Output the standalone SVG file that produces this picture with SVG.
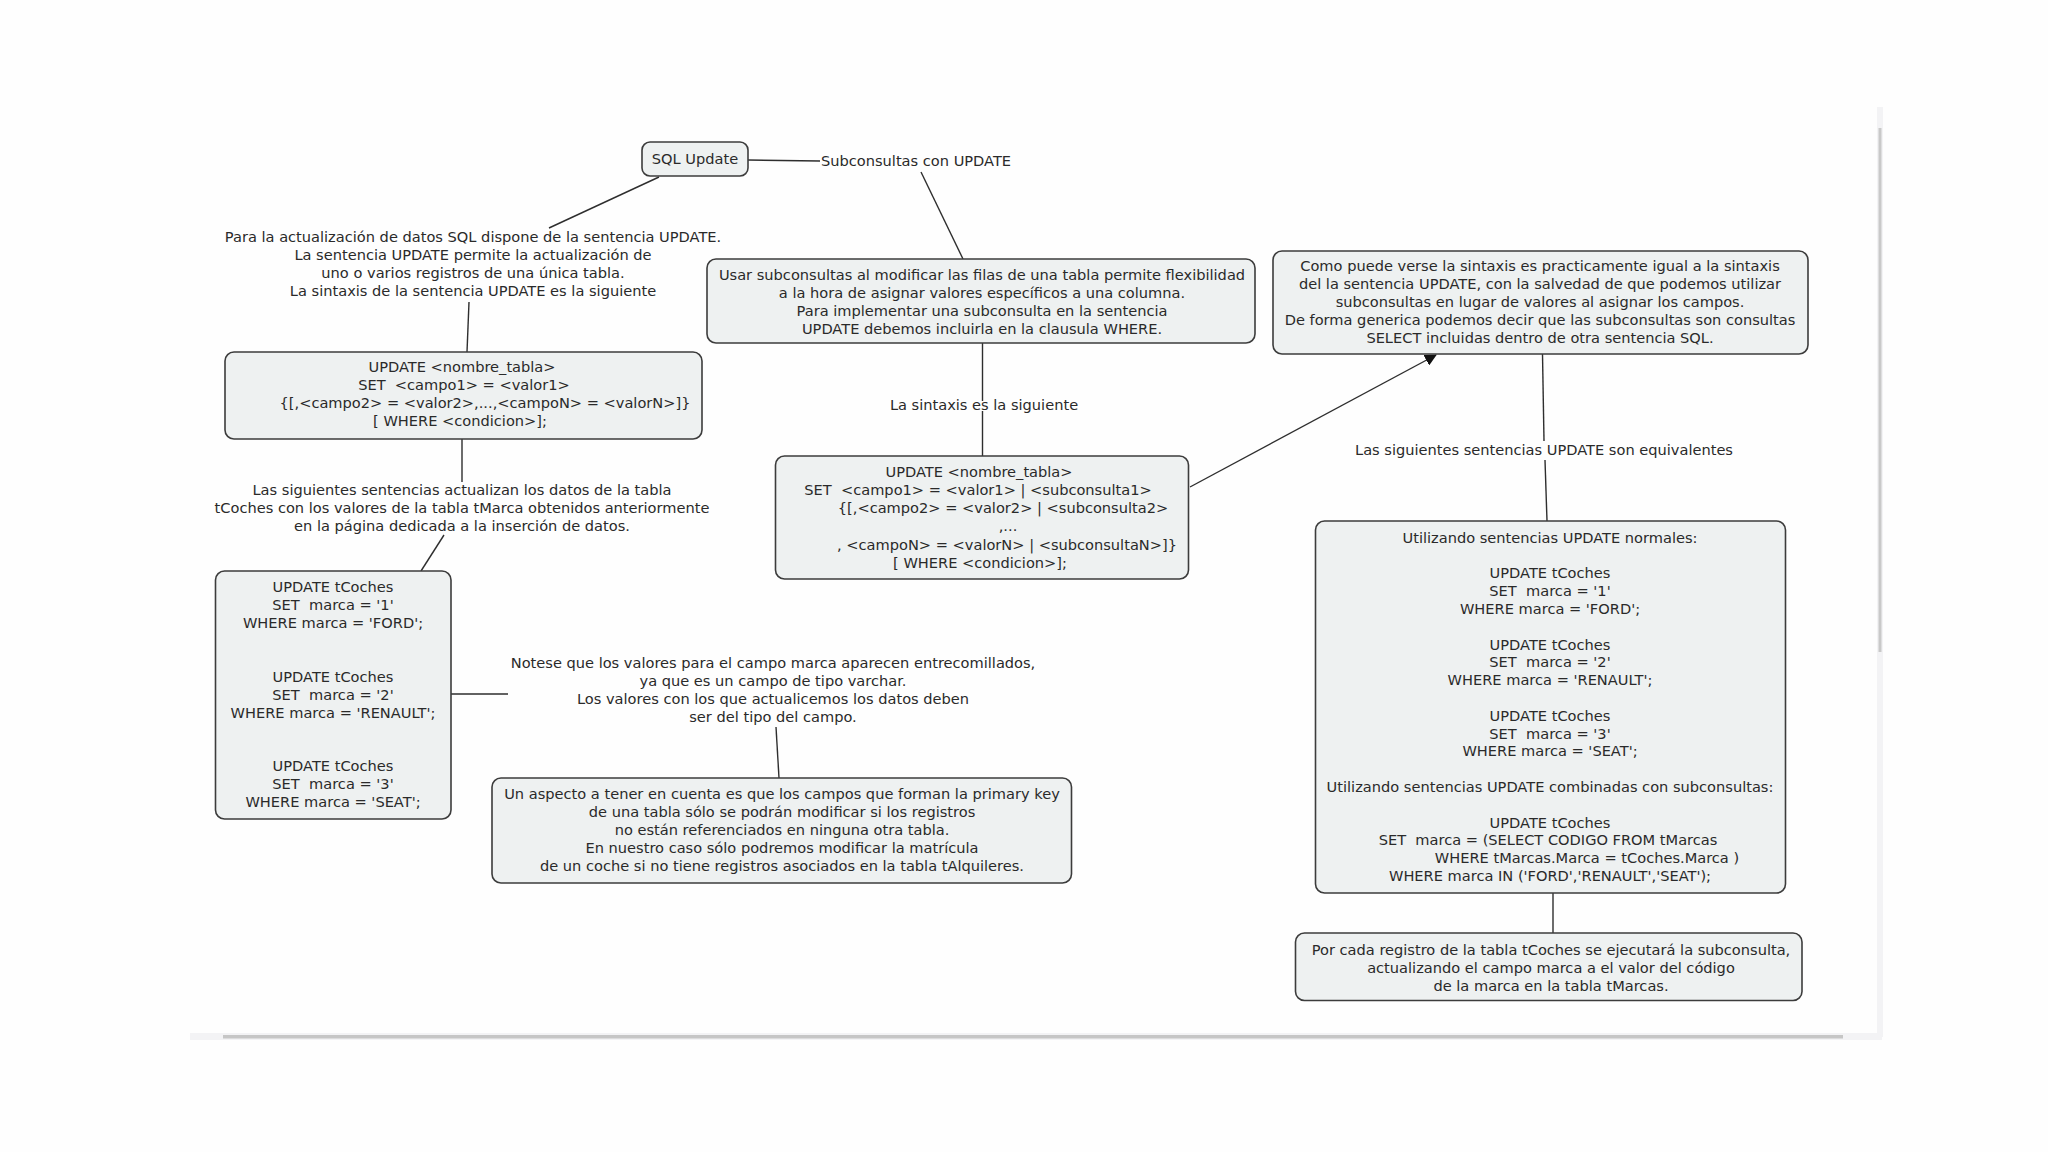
<svg xmlns="http://www.w3.org/2000/svg" width="2048" height="1152" viewBox="0 0 2048 1152">
<defs>
<style>
text{font-family:"DejaVu Sans","Verdana","Liberation Sans",sans-serif;font-size:14.6px;fill:#2a2a2a;white-space:pre}
.c{text-anchor:middle}
.box{fill:#eef1f1;stroke:#3c3c3c;stroke-width:1.6}
.ln{stroke:#2e2e2e;stroke-width:1.4;fill:none}
</style>
<marker id="arr" viewBox="0 0 12 12" refX="11" refY="6" markerWidth="12" markerHeight="12" markerUnits="userSpaceOnUse" orient="auto">
<path d="M0,0 L12,6 L0,12 z" fill="#111"/>
</marker>
</defs>
<rect width="2048" height="1152" fill="#fefefe"/>
<!-- scrollbars -->
<rect x="190" y="1033" width="1692" height="7" fill="#f3f3f5"/>
<rect x="223" y="1035" width="1620" height="3.5" fill="#c6c6c6"/>
<rect x="1877" y="107" width="6" height="930" fill="#f3f3f5"/>
<rect x="1878.5" y="128" width="3" height="524" fill="#c9c9c9"/>

<g id="connectors">
<line class="ln" x1="748" y1="160" x2="820" y2="161"/>
<line class="ln" x1="921" y1="172" x2="963" y2="259"/>
<line class="ln" x1="659" y1="177" x2="549" y2="228"/>
<line class="ln" x1="469" y1="302" x2="467" y2="352"/>
<line class="ln" x1="462" y1="439" x2="462" y2="482"/>
<line class="ln" x1="444" y1="535" x2="421" y2="571"/>
<line class="ln" x1="451" y1="694" x2="508" y2="694"/>
<line class="ln" x1="776" y1="727" x2="779" y2="778"/>
<line class="ln" x1="982.5" y1="343" x2="982.5" y2="401"/>
<line class="ln" x1="982.5" y1="411" x2="982.5" y2="456"/>
<line class="ln" x1="1190" y1="487" x2="1436" y2="355" marker-end="url(#arr)"/>
<line class="ln" x1="1542.5" y1="354" x2="1544" y2="441"/>
<line class="ln" x1="1545" y1="460" x2="1547" y2="521"/>
<line class="ln" x1="1553" y1="893" x2="1553" y2="933"/>
</g>

<g id="sql-update">
<rect class="box" x="642" y="142" width="106" height="34" rx="8"/>
<text class="c" x="695" y="164">SQL Update</text>
</g>

<g id="subconsultas-con-update">
<text x="821" y="166">Subconsultas con UPDATE</text>
</g>

<g id="para-la-actualizacion">
<text class="c" x="473" y="242">Para la actualización de datos SQL dispone de la sentencia UPDATE.</text>
<text class="c" x="473" y="260">La sentencia UPDATE permite la actualización de</text>
<text class="c" x="473" y="278">uno o varios registros de una única tabla.</text>
<text class="c" x="473" y="296">La sintaxis de la sentencia UPDATE es la siguiente</text>
</g>

<g id="update-syntax">
<rect class="box" x="225" y="352" width="477" height="87" rx="9"/>
<text class="c" x="462" y="372">UPDATE &lt;nombre_tabla&gt;</text>
<text class="c" x="464" y="390">SET  &lt;campo1&gt; = &lt;valor1&gt;</text>
<text class="c" x="485" y="408">{[,&lt;campo2&gt; = &lt;valor2&gt;,...,&lt;campoN&gt; = &lt;valorN&gt;]}</text>
<text class="c" x="460" y="426">[ WHERE &lt;condicion&gt;];</text>
</g>

<g id="las-siguientes-actualizan">
<text class="c" x="462" y="495">Las siguientes sentencias actualizan los datos de la tabla</text>
<text class="c" x="462" y="513">tCoches con los valores de la tabla tMarca obtenidos anteriormente</text>
<text class="c" x="462" y="531">en la página dedicada a la inserción de datos.</text>
</g>

<g id="update-tcoches">
<rect class="box" x="215.5" y="571" width="235.5" height="248" rx="9"/>
<text class="c" x="333" y="591.5">UPDATE tCoches</text>
<text class="c" x="333" y="609.5">SET  marca = '1'</text>
<text class="c" x="333" y="627.5">WHERE marca = 'FORD';</text>
<text class="c" x="333" y="681.5">UPDATE tCoches</text>
<text class="c" x="333" y="699.5">SET  marca = '2'</text>
<text class="c" x="333" y="717.5">WHERE marca = 'RENAULT';</text>
<text class="c" x="333" y="770.5">UPDATE tCoches</text>
<text class="c" x="333" y="788.5">SET  marca = '3'</text>
<text class="c" x="333" y="806.5">WHERE marca = 'SEAT';</text>
</g>

<g id="notese">
<text class="c" x="773" y="668">Notese que los valores para el campo marca aparecen entrecomillados,</text>
<text class="c" x="773" y="686">ya que es un campo de tipo varchar.</text>
<text class="c" x="773" y="704">Los valores con los que actualicemos los datos deben</text>
<text class="c" x="773" y="722">ser del tipo del campo.</text>
</g>

<g id="primary-key">
<rect class="box" x="492" y="778" width="579.5" height="105" rx="9"/>
<text class="c" x="782" y="799">Un aspecto a tener en cuenta es que los campos que forman la primary key</text>
<text class="c" x="782" y="817">de una tabla sólo se podrán modificar si los registros</text>
<text class="c" x="782" y="835">no están referenciados en ninguna otra tabla.</text>
<text class="c" x="782" y="853">En nuestro caso sólo podremos modificar la matrícula</text>
<text class="c" x="782" y="871">de un coche si no tiene registros asociados en la tabla tAlquileres.</text>
</g>

<g id="usar-subconsultas">
<rect class="box" x="707" y="259" width="548" height="84" rx="9"/>
<text class="c" x="982" y="280">Usar subconsultas al modificar las filas de una tabla permite flexibilidad</text>
<text class="c" x="982" y="298">a la hora de asignar valores específicos a una columna.</text>
<text class="c" x="982" y="316">Para implementar una subconsulta en la sentencia</text>
<text class="c" x="982" y="333.5">UPDATE debemos incluirla en la clausula WHERE.</text>
</g>

<g id="la-sintaxis">
<text class="c" x="984" y="410">La sintaxis es la siguiente</text>
</g>

<g id="update-subconsulta-syntax">
<rect class="box" x="775.5" y="456" width="413" height="123" rx="9"/>
<text class="c" x="979" y="477">UPDATE &lt;nombre_tabla&gt;</text>
<text class="c" x="978" y="495">SET  &lt;campo1&gt; = &lt;valor1&gt; | &lt;subconsulta1&gt;</text>
<text class="c" x="1003" y="513">{[,&lt;campo2&gt; = &lt;valor2&gt; | &lt;subconsulta2&gt;</text>
<text class="c" x="1008" y="531">,...</text>
<text class="c" x="1007" y="549.5">, &lt;campoN&gt; = &lt;valorN&gt; | &lt;subconsultaN&gt;]}</text>
<text class="c" x="980" y="567.5">[ WHERE &lt;condicion&gt;];</text>
</g>

<g id="como-puede-verse">
<rect class="box" x="1273" y="251" width="535" height="103" rx="9"/>
<text class="c" x="1540" y="271">Como puede verse la sintaxis es practicamente igual a la sintaxis</text>
<text class="c" x="1540" y="289">del la sentencia UPDATE, con la salvedad de que podemos utilizar</text>
<text class="c" x="1540" y="307">subconsultas en lugar de valores al asignar los campos.</text>
<text class="c" x="1540" y="325">De forma generica podemos decir que las subconsultas son consultas</text>
<text class="c" x="1540" y="343">SELECT incluidas dentro de otra sentencia SQL.</text>
</g>

<g id="equivalentes">
<text class="c" x="1544" y="455">Las siguientes sentencias UPDATE son equivalentes</text>
</g>

<g id="ejemplos-update">
<rect class="box" x="1315.5" y="521" width="470" height="372" rx="9"/>
<text class="c" x="1550" y="542.7">Utilizando sentencias UPDATE normales:</text>
<text class="c" x="1550" y="578.3">UPDATE tCoches</text>
<text class="c" x="1550" y="596.1">SET  marca = '1'</text>
<text class="c" x="1550" y="613.9">WHERE marca = 'FORD';</text>
<text class="c" x="1550" y="649.5">UPDATE tCoches</text>
<text class="c" x="1550" y="667.3">SET  marca = '2'</text>
<text class="c" x="1550" y="685.1">WHERE marca = 'RENAULT';</text>
<text class="c" x="1550" y="720.7">UPDATE tCoches</text>
<text class="c" x="1550" y="738.5">SET  marca = '3'</text>
<text class="c" x="1550" y="756.3">WHERE marca = 'SEAT';</text>
<text class="c" x="1550" y="791.9">Utilizando sentencias UPDATE combinadas con subconsultas:</text>
<text class="c" x="1550" y="827.5">UPDATE tCoches</text>
<text class="c" x="1548" y="845.3">SET  marca = (SELECT CODIGO FROM tMarcas</text>
<text class="c" x="1587" y="863.1">WHERE tMarcas.Marca = tCoches.Marca )</text>
<text class="c" x="1550" y="880.9">WHERE marca IN ('FORD','RENAULT','SEAT');</text>
</g>

<g id="por-cada-registro">
<rect class="box" x="1295.5" y="933" width="506.5" height="67.5" rx="9"/>
<text class="c" x="1551" y="955">Por cada registro de la tabla tCoches se ejecutará la subconsulta,</text>
<text class="c" x="1551" y="973">actualizando el campo marca a el valor del código</text>
<text class="c" x="1551" y="991">de la marca en la tabla tMarcas.</text>
</g>
</svg>
